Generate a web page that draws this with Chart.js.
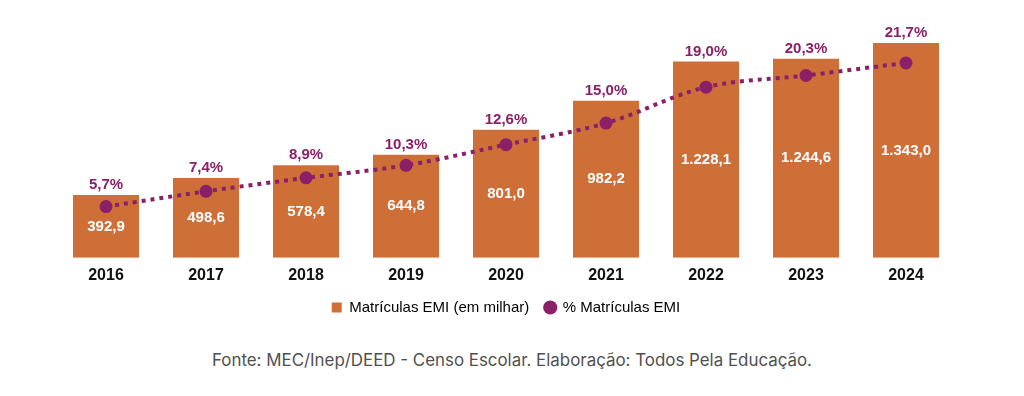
<!DOCTYPE html>
<html>
<head>
<meta charset="utf-8">
<script src="https://cdn.jsdelivr.net/npm/chart.js@4"></script>
<style>
body { margin:0; background:#fff; }
#wrap { position:relative; width:1024px; height:396px; }
#box { position:absolute; left:0; top:0; width:1024px; height:325px; }
#fonte { position:absolute; left:0; width:1024px; top:350px; text-align:center;
  font-family:Inter, "Open Sans", sans-serif; font-size:16.9px; color:#505050; }
</style>
</head>
<body>
<div id="wrap">
  <div id="box"><canvas id="chart"></canvas></div>
  <div id="fonte">Fonte: MEC/Inep/DEED - Censo Escolar. Elaboração: Todos Pela Educação.</div>
</div>
<script>
// ================= DATA =================
const anos = ["2016","2017","2018","2019","2020","2021","2022","2023","2024"];
const matriculas = [392.9, 498.6, 578.4, 644.8, 801.0, 982.2, 1228.1, 1244.6, 1343.0];
const percentual = [5.7, 7.4, 8.9, 10.3, 12.6, 15.0, 19.0, 20.3, 21.7];

const LARANJA = "#CF6F38";
const ROXO = "#8B2068";
const FONTE = "'Liberation Sans', Arial, sans-serif";

function fmt(v, casas){
  return v.toLocaleString("pt-BR", {minimumFractionDigits:casas, maximumFractionDigits:casas});
}

// ================= LABELS =================
const rotulos = {
  id: "rotulos",
  afterDatasetsDraw(chart){
    const ctx = chart.ctx;
    const barras = chart.getDatasetMeta(1).data;
    ctx.save();
    ctx.textAlign = "center";
    ctx.textBaseline = "middle";
    ctx.font = "bold 15px " + FONTE;
    barras.forEach((b, i) => {
      ctx.fillStyle = "#fff";
      ctx.fillText(fmt(matriculas[i], 1), b.x, (b.y + b.base) / 2);
      ctx.fillStyle = ROXO;
      ctx.fillText(fmt(percentual[i], 1) + "%", b.x, b.y - 10);
    });
    ctx.restore();
  }
};

new Chart(document.getElementById("chart"), {
  data: {
    labels: anos,
    datasets: [
      {
        type: "line",
        label: "% Matrículas EMI",
        data: percentual,
        yAxisID: "yp",
        borderColor: ROXO,
        backgroundColor: ROXO,
        borderWidth: 4,
        borderDash: [4, 5],
        borderCapStyle: "butt",
        tension: 0.35,
        pointRadius: 4.5,
        pointHoverRadius: 4.5,
        order: 0
      },
      {
        type: "bar",
        label: "Matrículas EMI (em milhar)",
        data: matriculas,
        yAxisID: "y",
        backgroundColor: LARANJA,
        barPercentage: 0.66,
        categoryPercentage: 1.0,
        order: 1
      }
    ]
  },
  options: {
    responsive: true,
    maintainAspectRatio: false,
    animation: false,
    layout: { padding: { left: 56, right: 68, top: 18, bottom: 0 } },
    scales: {
      x: {
        grid: { display: false, drawTicks: false },
        border: { display: false },
        ticks: {
          color: "#111",
          padding: 8,
          font: { family: FONTE, size: 16, weight: "bold" }
        },
        // pull the legend up closer to the year labels
        afterFit(scale){ scale.height -= 9; }
      },
      y: { display: false, min: 0, max: 1500 },
      yp: { display: false, min: 0, max: 26.7 }
    },
    plugins: {
      legend: {
        position: "bottom",
        reverse: true,
        labels: {
          usePointStyle: true,
          boxWidth: 10,
          boxHeight: 10,
          padding: 16,
          color: "#333",
          font: { family: FONTE, size: 15 },
          generateLabels(chart){
            return chart.data.datasets.map((d, i) => ({
              text: d.label,
              fillStyle: d.backgroundColor,
              strokeStyle: d.backgroundColor,
              lineWidth: 0,
              pointStyle: d.type === "bar" ? "rect" : "circle",
              datasetIndex: i,
              hidden: false
            }));
          }
        }
      },
      tooltip: { enabled: false }
    }
  },
  plugins: [rotulos]
});
</script>
</body>
</html>
